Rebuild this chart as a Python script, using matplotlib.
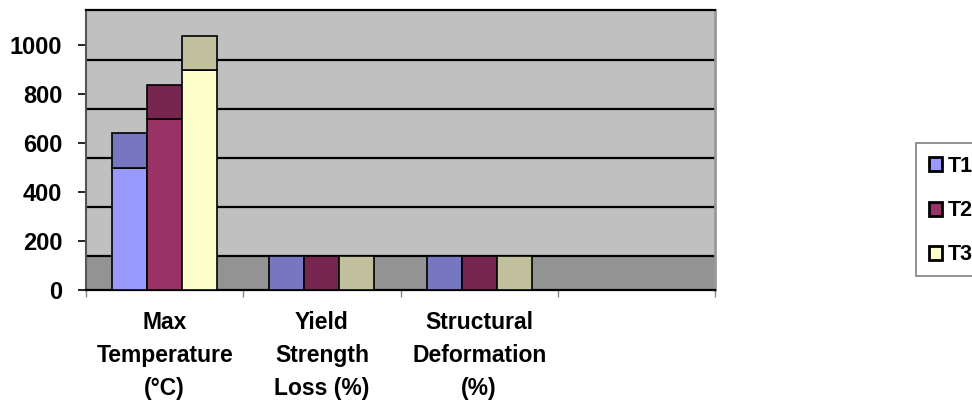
import matplotlib
matplotlib.use("Agg")
import matplotlib.pyplot as plt
import numpy as np
from matplotlib.patches import Patch, Rectangle

plt.rcParams['font.family'] = ['Liberation Sans', 'DejaVu Sans']
plt.rcParams['font.weight'] = 'bold'

categories = ["Max\nTemperature\n(°C)", "Yield\nStrength\nLoss (%)", "Structural\nDeformation\n(%)"]
series_names = ["T1", "T2", "T3"]
T1 = [500, 0, 0]
T2 = [700, 0, 0]
T3 = [900, 0, 0]
yticks = [0, 200, 400, 600, 800, 1000]

front_colors = ["#9999FF", "#993366", "#FFFFCC"]
cap_colors = ["#7777C1", "#772650", "#C0C09C"]
DEPTH = 140  # visual 3D depth offset

fig = plt.figure(figsize=(9.72, 4.0), dpi=100)
ax = fig.add_axes([86/972, 1-290/400, (715-86)/972, (290-10)/400])
ax.set_facecolor("#C0C0C0")
ax.set_xlim(-0.5, 3.5)
ax.set_ylim(0, 1145)

# floor
ax.axhspan(0, DEPTH, color="#939393", zorder=0.5, lw=0)
# back-wall gridlines
for v in yticks[:-1]:
    ax.axhline(v + DEPTH, color="black", lw=1.6, zorder=1)

x = np.arange(len(categories))
width = 0.223
offsets = [-width, 0, width]
for vals, off, fc, cc in zip([T1, T2, T3], offsets, front_colors, cap_colors):
    ax.bar(x + off, vals, width, color=fc, edgecolor="black", lw=1.2, zorder=3)
    ax.bar(x + off, [DEPTH]*len(vals), width, bottom=vals, color=cc,
           edgecolor="black", lw=1.2, zorder=3)

ax.set_yticks(yticks)
ax.set_yticklabels([str(v) for v in yticks], fontsize=17, fontweight='bold')
ax.tick_params(axis='y', length=6, width=1.2, color='black', pad=11)

ax.set_xticks(x)
ax.set_xticklabels(categories, fontsize=16.5, fontweight='bold', linespacing=1.55)
ax.tick_params(axis='x', which='major', length=0, pad=15)
ax.set_xticks(np.arange(-0.5, 3.6, 1.0), minor=True)
ax.tick_params(axis='x', which='minor', length=5, width=1, color='#888888', direction='out')

ax.spines['top'].set_color('black')
ax.spines['top'].set_linewidth(1.6)
ax.spines['bottom'].set_color('black')
ax.spines['bottom'].set_linewidth(1.6)
ax.spines['left'].set_color('#555555')
ax.spines['left'].set_linewidth(1.5)
ax.spines['right'].set_color('#999999')
ax.spines['right'].set_linewidth(2)

# legend box (extends past the right edge, as in the reference)
fig.add_artist(Rectangle((916/972, 1-276/400), 80/972, (276-143)/400,
                         transform=fig.transFigure, facecolor='white',
                         edgecolor='#808080', lw=1.2, zorder=0))
handles = [Patch(facecolor=fc, edgecolor='black', lw=2) for fc in front_colors]
leg = fig.legend(handles, series_names, loc='upper left',
                 bbox_to_anchor=(916/972, 1-143/400), bbox_transform=fig.transFigure,
                 frameon=False,
                 prop={'size': 15.5, 'weight': 'bold'},
                 handlelength=0.62, handleheight=0.62, handletextpad=0.25,
                 labelspacing=1.08, borderpad=0.6, borderaxespad=0)

fig.savefig("out.png", dpi=100)
